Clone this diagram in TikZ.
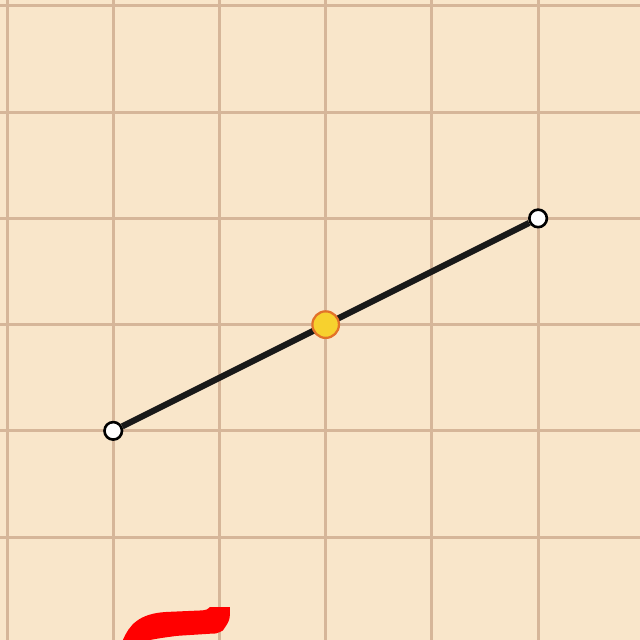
\documentclass[tikz,border=0pt]{standalone}
\usepackage{tikz}
\usepackage{xcolor}
\usetikzlibrary{positioning}

\definecolor{paper}{HTML}{F9E6CA}
\definecolor{gridline}{HTML}{D6B699}
\definecolor{midfill}{HTML}{F7D12E}
\definecolor{midedge}{HTML}{E2722A}

\begin{document}
\begin{tikzpicture}[x=1cm, y=1cm,
        endpt/.style={circle, draw=black, fill=white, line width=0.7pt, inner sep=0pt, minimum size=1.65mm},
        midpt/.style={circle, draw=midedge, fill=midfill, line width=0.6pt, inner sep=0pt, minimum size=2.5mm},
        seg/.style={line width=1.65pt, color=black!90}]
        \useasboundingbox (-0.066,-0.969) rectangle (5.955,5.056);
        \fill[paper] (-0.066,-0.969) rectangle (5.955,5.056);
        \draw[gridline, line width=0.8pt] (-0.066,-0.969) grid (5.955,5.056);

        \node[endpt]  (p)  at (1,1) {};
        \node[endpt]  (q)  at (5,3) {};
        \draw[seg] (p) -- (q);
        \node[midpt]  (m)  at (3,2) {};

        % red brush stroke at the lower edge
        \fill[red] (1.091,-0.969) .. controls (1.15,-0.83) and (1.24,-0.72) .. (1.50,-0.705)
            -- (1.844,-0.690) .. controls (1.88,-0.685) .. (1.910,-0.659)
            -- (2.098,-0.659) .. controls (2.10,-0.78) .. (2.032,-0.880)
            .. controls (1.97,-0.91) .. (1.910,-0.910)
            .. controls (1.75,-0.92) .. (1.599,-0.930)
            .. controls (1.45,-0.95) .. (1.345,-0.969)
            -- cycle;
\end{tikzpicture}
\end{document}
